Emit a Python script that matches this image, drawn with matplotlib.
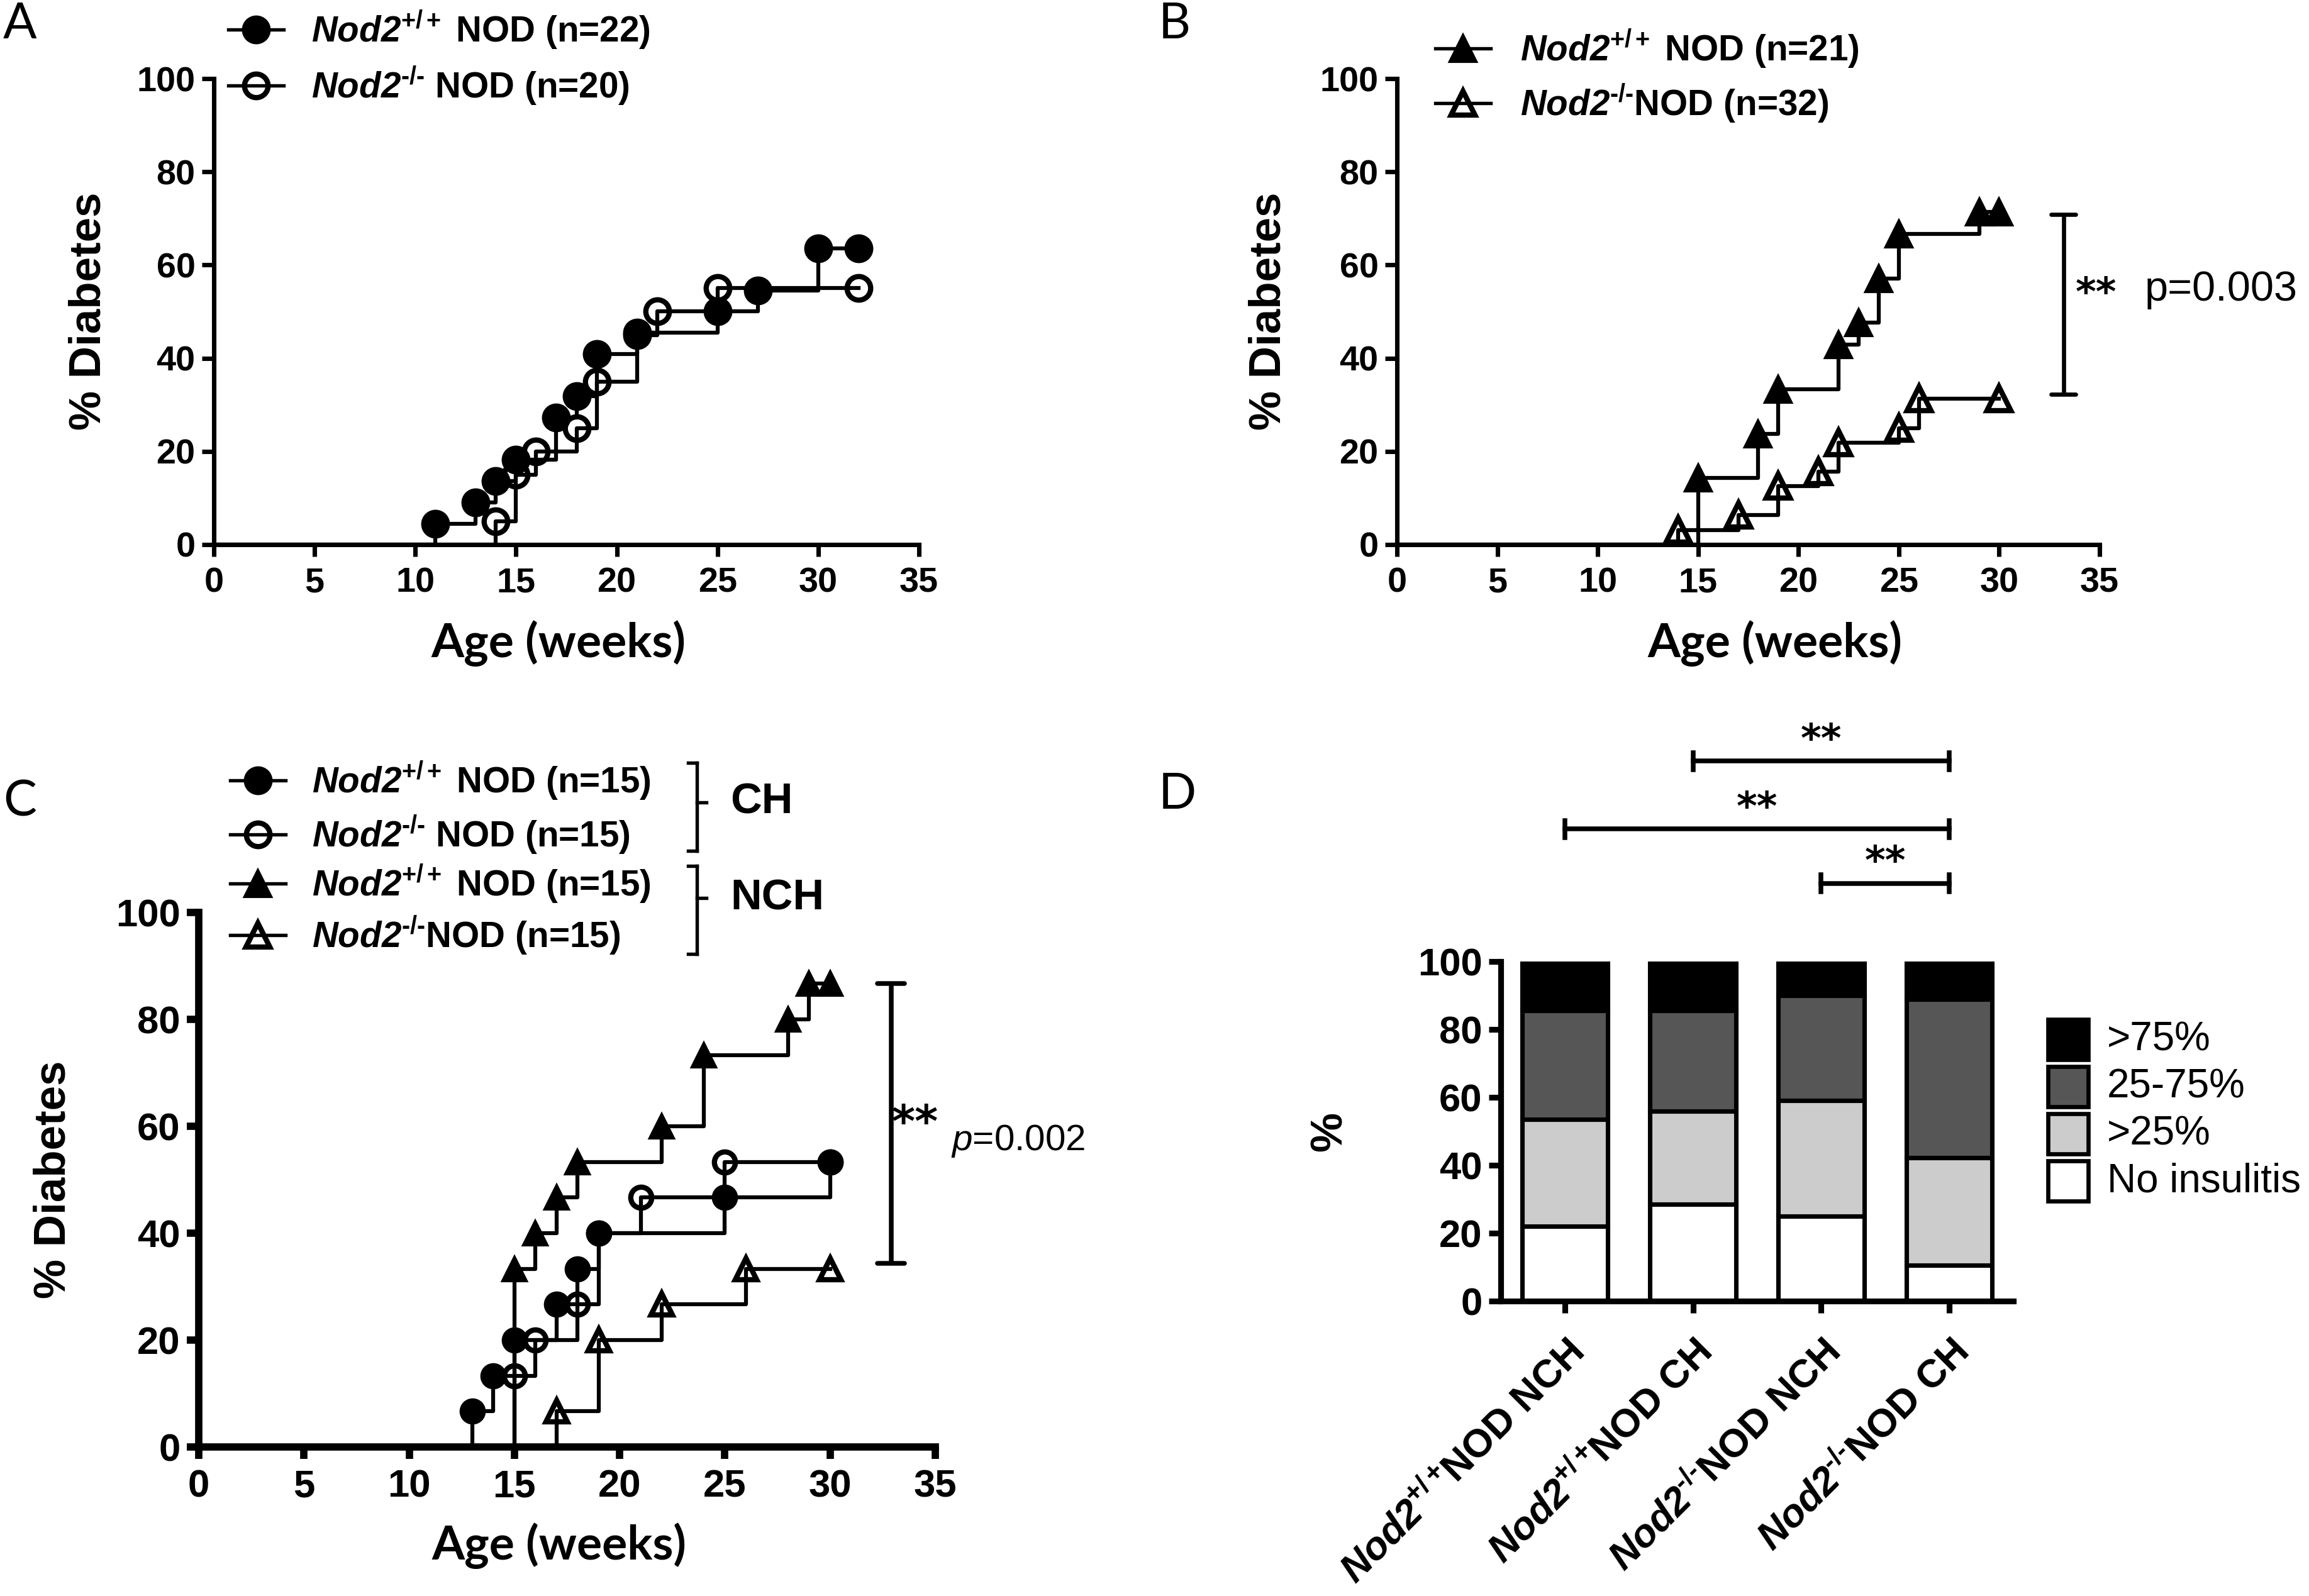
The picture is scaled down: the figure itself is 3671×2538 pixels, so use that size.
import matplotlib
matplotlib.use("Agg")
import matplotlib.pyplot as plt
from matplotlib.lines import Line2D
from matplotlib.patches import Rectangle

# ---- data ----
# A: spontaneous diabetes, Nod2+/+ (n=22) vs Nod2-/- (n=20)
a_wt_weeks = [11, 13, 14, 15, 17, 18, 19, 21, 25, 27, 30, 32]
a_wt_pct = [4.5, 9.1, 13.6, 18.2, 27.3, 31.8, 40.9, 45.5, 50.0, 54.5, 63.6, 63.6]
a_ko_weeks = [14, 15, 16, 18, 19, 21, 22, 25, 32]
a_ko_pct = [5, 15, 20, 25, 35, 45, 50, 55, 55]

# B: Nod2+/+ (n=21) vs Nod2-/- (n=32)
b_wt_weeks = [15, 18, 19, 22, 23, 24, 25, 29, 30]
b_wt_pct = [14.3, 23.8, 33.3, 42.9, 47.6, 57.1, 66.7, 71.4, 71.4]
b_ko_weeks = [14, 17, 19, 21, 22, 25, 26, 30]
b_ko_pct = [3.1, 6.3, 12.5, 15.6, 21.9, 25.0, 31.3, 31.3]

# C: CH / NCH housing, n=15 each
c_ch_wt_weeks = [13, 14, 15, 17, 18, 19, 25, 30]
c_ch_wt_pct = [6.7, 13.3, 20.0, 26.7, 33.3, 40.0, 46.7, 53.3]
c_ch_ko_weeks = [15, 16, 18, 19, 21, 25, 30]
c_ch_ko_pct = [13.3, 20.0, 26.7, 40.0, 46.7, 53.3, 53.3]
c_nch_wt_weeks = [15, 16, 17, 18, 22, 24, 28, 29, 30]
c_nch_wt_pct = [33.3, 40.0, 46.7, 53.3, 60.0, 73.3, 80.0, 86.7, 86.7]
c_nch_ko_weeks = [17, 19, 22, 26, 30]
c_nch_ko_pct = [6.7, 20.0, 26.7, 33.3, 33.3]

# D: insulitis scores (% of islets)
HY = "\u2010"
WT = r"$\mathbfit{Nod2}^{\mathbf{+/+}}$"
KO = r"$\mathbfit{Nod2}^{\mathbf{" + HY + "/" + HY + "}}$"
WT_T = r"$\mathbfit{Nod2}^{\mathbf{+/+}}\!$"
d_groups = [WT_T + "NOD NCH", WT_T + "NOD CH", KO + "NOD NCH", KO + "NOD CH"]
d_none = [22.0, 28.5, 25.0, 10.5]
d_lt25 = [31.5, 27.5, 34.0, 31.8]
d_mid = [32.0, 29.5, 31.0, 46.5]
d_gt75 = [14.5, 14.5, 10.0, 11.2]
d_names = [">75%", "25-75%", ">25%", "No insulitis"]
d_colors = ["black", "#565656", "#cccccc", "white"]

# ---- figure geometry (pixels of the 3671x2538 output) ----
W, H, DPI = 3671, 2538, 300
plt.rcParams['font.family'] = ['Liberation Sans', 'DejaVu Sans']
plt.rcParams['mathtext.fontset'] = 'custom'
plt.rcParams['mathtext.rm'] = 'Liberation Sans'
plt.rcParams['mathtext.it'] = 'Liberation Sans:italic'
plt.rcParams['mathtext.bf'] = 'Liberation Sans:bold'
plt.rcParams['mathtext.bfit'] = 'Liberation Sans:italic:bold'

fig = plt.figure(figsize=(W / DPI, H / DPI), dpi=DPI)


def fx(px):
    return px / W


def fy(py):
    return 1 - py / H


def make_axes(x0, x1, yt, yb):
    return fig.add_axes([fx(x0), fy(yb), fx(x1) - fx(x0), fy(yt) - fy(yb)])


def style_axes(ax, tick_fs, spine_lw):
    for s in ['top', 'right']:
        ax.spines[s].set_visible(False)
    for s in ['left', 'bottom']:
        ax.spines[s].set_linewidth(spine_lw)
    ax.tick_params(direction='out', length=4.6, width=spine_lw, labelsize=tick_fs)
    ax.tick_params(axis='x', pad=4)
    ax.tick_params(axis='y', pad=2.5)
    for lab in ax.get_xticklabels() + ax.get_yticklabels():
        lab.set_fontweight('bold')


def style_km(ax, tick_fs, spine_lw):
    ax.set_xlim(0, 35)
    ax.set_ylim(0, 100)
    ax.set_xticks(range(0, 36, 5))
    ax.set_yticks(range(0, 101, 20))
    style_axes(ax, tick_fs, spine_lw)


def km(ax, weeks, pct, marker, filled, ms, lw):
    ax.plot([0] + weeks, [0] + pct, drawstyle='steps-post', color='black',
            lw=lw, clip_on=False, zorder=2)
    if filled:
        ax.plot(weeks, pct, ls='none', marker=marker, ms=ms, mfc='black',
                mec='black', mew=1.0, clip_on=False, zorder=3)
    else:
        ax.plot(weeks, pct, ls='none', marker=marker, ms=ms - 1, mfc='none',
                mec='black', mew=2.0, clip_on=False, zorder=3)


def vbracket(ax, x, y0, y1, cap, lw):
    ax.plot([x, x], [y0, y1], color='black', lw=lw, clip_on=False,
            solid_capstyle='butt')
    for y in (y0, y1):
        ax.plot([x - cap, x + cap], [y, y], color='black', lw=lw,
                clip_on=False, solid_capstyle='round')


def legend_row(xm, y, marker, filled, label, ms=10, fs=13.6, tx=495):
    kw = dict(mfc='black', mew=1.0) if filled else dict(mfc='none', mew=2.0)
    line = Line2D([fx(xm - 44), fx(xm), fx(xm + 44)], [fy(y)] * 3,
                  transform=fig.transFigure, color='black', lw=1.3,
                  marker=marker, markevery=[1], ms=ms if filled else ms - 1,
                  mec='black', **kw)
    fig.add_artist(line)
    fig.text(fx(tx), fy(y), label, fontsize=fs, fontweight='bold',
             va='center', ha='left')


def panel_letter(x, y, s):
    fig.text(fx(x), fy(y), s, fontsize=19, family='Lato', fontweight='normal',
             va='center', ha='left')


def ylab(x, y, s):
    fig.text(fx(x), fy(y), s, rotation=90, fontsize=17, fontweight='bold',
             va='center', ha='center')


def xlab(x, y, s):
    fig.text(fx(x), fy(y), s, fontsize=18, family='Lato', fontweight='bold',
             va='center', ha='center')


# ---- panel A ----
axA = make_axes(340, 1461, 125, 866)
km(axA, a_ko_weeks, a_ko_pct, 'o', False, 10, 1.5)
km(axA, a_wt_weeks, a_wt_pct, 'o', True, 10, 1.5)
style_km(axA, 13.4, 1.7)
panel_letter(5, 39, "A")
ylab(141, 495, "% Diabetes")
xlab(888, 1023, "Age (weeks)")
legend_row(407, 47, 'o', True, WT + " NOD (n=22)")
legend_row(407, 136, 'o', False, KO + " NOD (n=20)")

# ---- panel B ----
axB = make_axes(2221, 3338, 125, 866)
km(axB, b_ko_weeks, b_ko_pct, '^', False, 10, 1.5)
km(axB, b_wt_weeks, b_wt_pct, '^', True, 10, 1.5)
style_km(axB, 13.4, 1.7)
vbracket(axB, 33.2, 32.2, 70.8, 0.6, 1.6)
fig.text(fx(3300), fy(468), "**", fontsize=15, family='DejaVu Sans',
         fontweight='bold', va='center', ha='left')
fig.text(fx(3410), fy(461), "p=0.003", fontsize=16, va='center', ha='left')
panel_letter(1842, 39, "B")
ylab(2018, 495, "% Diabetes")
xlab(2822, 1023, "Age (weeks)")
legend_row(2326, 77, '^', True, WT + " NOD (n=21)", tx=2417)
legend_row(2326, 164, '^', False, KO + "NOD (n=32)", tx=2417)

# ---- panel C ----
axC = make_axes(316, 1487, 1451, 2301)
km(axC, c_nch_ko_weeks, c_nch_ko_pct, '^', False, 9, 1.5)
km(axC, c_nch_wt_weeks, c_nch_wt_pct, '^', True, 9, 1.5)
km(axC, c_ch_ko_weeks, c_ch_ko_pct, 'o', False, 9, 1.5)
km(axC, c_ch_wt_weeks, c_ch_wt_pct, 'o', True, 9, 1.5)
style_km(axC, 14.8, 2.8)
vbracket(axC, 32.9, 34.3, 86.7, 0.65, 1.8)
fig.text(fx(1418), fy(1788), "**", fontsize=17, family='DejaVu Sans',
         fontweight='bold', va='center', ha='left')
fig.text(fx(1512), fy(1814), r"$\mathit{p}$=0.002", fontsize=14, va='center', ha='left')
panel_letter(5, 1276, "C")
ylab(86, 1876, "% Diabetes")
xlab(889, 2458, "Age (weeks)")
legend_row(410, 1241, 'o', True, WT + " NOD (n=15)", tx=496)
legend_row(410, 1327, 'o', False, KO + " NOD (n=15)", tx=496)
legend_row(410, 1405, '^', True, WT + " NOD (n=15)", tx=496)
legend_row(410, 1487, '^', False, KO + "NOD (n=15)", tx=496)

# group brackets CH / NCH
for top, bot, mid, name in [(1213, 1353, 1276, "CH"), (1377, 1517, 1428, "NCH")]:
    seg = [([1108, 1108], [top, bot]), ([1094, 1108], [top, top]),
           ([1094, 1108], [bot, bot]), ([1108, 1123], [mid, mid])]
    for xs, ys in seg:
        fig.add_artist(Line2D([fx(v) for v in xs], [fy(v) for v in ys],
                              transform=fig.transFigure, color='black', lw=1.3))
    fig.text(fx(1161), fy(mid), name, fontsize=16.5, fontweight='bold',
             va='center', ha='left')

# ---- panel D ----
axD = make_axes(2386, 3201, 1529, 2069)
xpos = list(range(len(d_groups)))
bottom = [0.0] * len(xpos)
for vals, col in [(d_none, "white"), (d_lt25, "#cccccc"), (d_mid, "#565656"), (d_gt75, "black")]:
    axD.bar(xpos, vals, bottom=bottom, width=0.67, color=col, edgecolor='black',
            linewidth=1.7, zorder=2)
    bottom = [b + v for b, v in zip(bottom, vals)]
axD.set_xlim(-0.5, 3.5)
axD.set_ylim(0, 100)
axD.set_yticks(range(0, 101, 20))
axD.set_xticks(xpos)
axD.set_xticklabels(d_groups, rotation=45, ha='right', va='top',
                    rotation_mode='anchor', fontsize=15, fontweight='bold')
style_axes(axD, 14.8, 2.2)
axD.tick_params(axis='x', labelsize=15, pad=8)
panel_letter(1842, 1264, "D")
ylab(2115, 1799, "%")


def sig(ax, x0, x1, y, ty):
    ax.plot([x0, x1], [y, y], color='black', lw=1.8, clip_on=False)
    for x in (x0, x1):
        ax.plot([x, x], [y - 2.5, y + 2.5], color='black', lw=1.8, clip_on=False)
    ax.text((x0 + x1) / 2, ty, "**", ha='center', va='center', fontsize=15,
            family='DejaVu Sans', fontweight='bold', clip_on=False)


sig(axD, 1, 3, 159, 165)
sig(axD, 0, 3, 139, 145)
sig(axD, 2, 3, 123, 129)

# legend D
for i, (name, col) in enumerate(zip(d_names, d_colors)):
    yc = 1653 + i * 75
    fig.add_artist(Rectangle((fx(3256), fy(yc + 32)), fx(64), 64 / H,
                             transform=fig.transFigure, facecolor=col,
                             edgecolor='black', lw=1.6))
    fig.text(fx(3350), fy(yc), name, fontsize=15.3, va='center', ha='left')

fig.savefig("out.png", dpi=DPI)
